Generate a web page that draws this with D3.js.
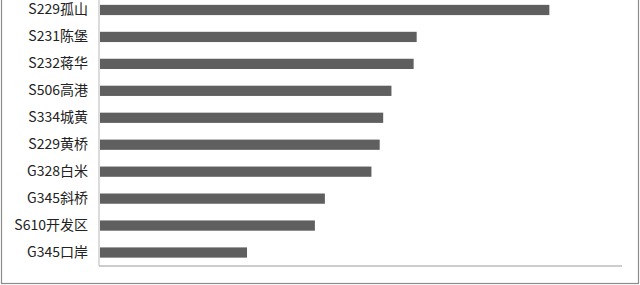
<!DOCTYPE html>
<html>
<head>
<meta charset="utf-8">
<script src="https://cdn.jsdelivr.net/npm/d3@7"></script>
<style>
  html, body { margin: 0; padding: 0; background: #fff; }
  svg { display: block; }
</style>
</head>
<body>
<div id="chart"></div>
<script>
// road segments, top to bottom
const roads = ['S229孤山', 'S231陈堡', 'S232蒋华', 'S506高港', 'S334城黄',
  'S229黄桥', 'G328白米', 'G345斜桥', 'S610开发区', 'G345口岸'];
// values (axis has no tick labels)
const volumes = [10330, 7280, 7210, 6700, 6510, 6430, 6240, 5170, 4940, 3380];
const xMax = 12000;

const W = 640, H = 285;
const margin = { top: -3.5, right: 18, bottom: 19, left: 99 };

const svg = d3.select('#chart').append('svg')
  .attr('width', W)
  .attr('height', H);

// outer frame
svg.append('rect')
  .attr('x', 1.5).attr('y', -10)
  .attr('width', 637).attr('height', 293.5)
  .attr('fill', 'none')
  .attr('stroke', '#8c8c8c')
  .attr('stroke-width', 1.2);

const x = d3.scaleLinear()
  .domain([0, xMax])
  .range([margin.left + 1, W - margin.right]);

const y = d3.scaleBand()
  .domain(roads)
  .range([margin.top, H - margin.bottom])
  .paddingInner(0.62)
  .paddingOuter(0.31);

const data = roads.map((r, i) => ({ road: r, value: volumes[i] }));

svg.selectAll('.bar')
  .data(data)
  .enter()
  .append('rect')
  .attr('class', 'bar')
  .attr('x', x(0))
  .attr('y', d => y(d.road))
  .attr('width', d => x(d.value) - x(0))
  .attr('height', y.bandwidth())
  .attr('fill', '#5f5f5f');

// axes: plain light lines, no ticks
const yAxis = svg.append('g')
  .attr('transform', `translate(${margin.left},0)`)
  .call(d3.axisLeft(y).tickSize(0).tickPadding(11));
yAxis.select('.domain')
  .attr('stroke', '#c4c4c4')
  .attr('stroke-width', 1.2)
  .attr('d', `M0,0V${H - margin.bottom}`);
yAxis.selectAll('text')
  .attr('font-family', '"Noto Sans CJK SC", "Noto Sans", sans-serif')
  .attr('font-size', '14px')
  .attr('fill', '#222');

svg.append('line')
  .attr('x1', margin.left)
  .attr('x2', W - margin.right)
  .attr('y1', H - margin.bottom)
  .attr('y2', H - margin.bottom)
  .attr('stroke', '#bdbdbd')
  .attr('stroke-width', 1.6);
</script>
</body>
</html>
